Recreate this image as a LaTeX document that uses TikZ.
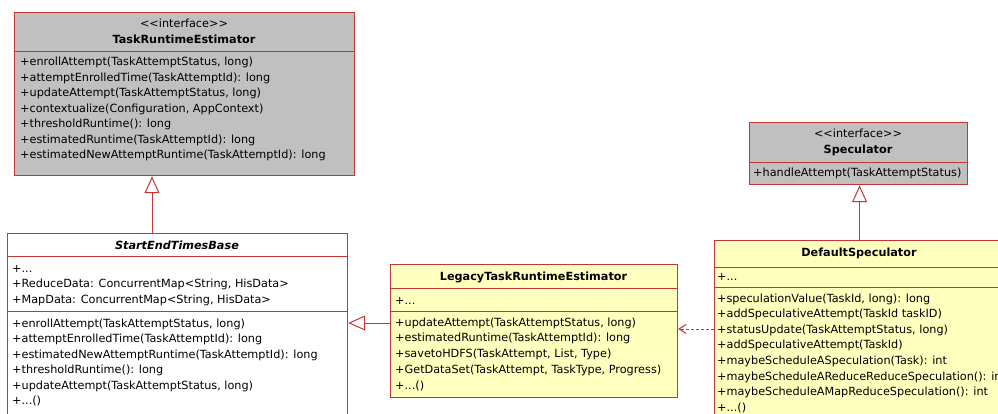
\documentclass[tikz,border=0pt]{standalone}
\usepackage{fontspec}
\newfontfamily\umlfont{DejaVu Sans}
\usetikzlibrary{arrows.meta}
\definecolor{umlborder}{RGB}{198,52,52}
\definecolor{ifacefill}{RGB}{192,192,192}
\definecolor{classfill}{RGB}{255,255,190}
\newcommand{\umlsize}{\fontsize{11.25}{15.5}\selectfont}
% a compartment's member list, its baseline on the first line
\newcommand{\memberlist}[1]{\begin{tabular}[t]{@{}l@{}}#1\end{tabular}}
\tikzset{
  comp/.style={draw=umlborder, line width=1.2pt, rectangle, inner sep=0pt, anchor=north west},
  members/.style={anchor=base west, inner sep=0pt, font=\umlfont\umlsize},
  title/.style={anchor=base, inner sep=0pt, font=\umlfont\bfseries\umlsize},
  stereo/.style={anchor=base, inner sep=0pt, font=\umlfont\umlsize},
  generalization/.style={draw=umlborder, line width=1pt,
    -{Triangle[open, length=17pt, width=15pt]}},
  dependency/.style={draw=umlborder, line width=1pt, dash pattern=on 3pt off 2pt,
    -{Straight Barb[length=7pt, width=9pt]}},
}
\begin{document}
\begin{tikzpicture}[x=1pt, y=-1pt]
\useasboundingbox (0,0) rectangle (998,414);
\fill[white] (0,0) rectangle (998,414);
\clip (0,0) rectangle (998,414);

% ---- TaskRuntimeEstimator (interface)
\node[comp, fill=ifacefill, minimum width=340pt, minimum height=39pt] (treHead) at (14,12) {};
\node[comp, fill=ifacefill, minimum width=340pt, minimum height=124pt] (treOps) at (14,51) {};
\node[stereo] (treStereo) at (184,28) {<<interface>>};
\node[title] (treName) at (184,44) {TaskRuntimeEstimator};
\node[members] (treList) at (20,66) {\memberlist{+enrollAttempt(TaskAttemptStatus, long)\\
+attemptEnrolledTime(TaskAttemptId): long\\
+updateAttempt(TaskAttemptStatus, long)\\
+contextualize(Configuration, AppContext)\\
+thresholdRuntime(): long\\
+estimatedRuntime(TaskAttemptId): long\\
+estimatedNewAttemptRuntime(TaskAttemptId): long}};

% ---- StartEndTimesBase (abstract)
\node[comp, fill=white, minimum width=340pt, minimum height=23pt] (serHead) at (7,233) {};
\node[comp, fill=white, minimum width=340pt, minimum height=55pt] (serAttr) at (7,256) {};
\node[comp, fill=white, minimum width=340pt, minimum height=130pt] (serOps) at (7,311) {};
\node[title, font=\umlfont\bfseries\itshape\umlsize] (serName) at (177,249) {StartEndTimesBase};
\node[members] (serAttrList) at (12,272) {\memberlist{+...\\
+ReduceData: ConcurrentMap<String, HisData>\\
+MapData: ConcurrentMap<String, HisData>}};
\node[members] (serOpsList) at (12,327) {\memberlist{+enrollAttempt(TaskAttemptStatus, long)\\
+attemptEnrolledTime(TaskAttemptId): long\\
+estimatedNewAttemptRuntime(TaskAttemptId): long\\
+thresholdRuntime(): long\\
+updateAttempt(TaskAttemptStatus, long)\\
+...()}};

% ---- LegacyTaskRuntimeEstimator
\node[comp, fill=classfill, minimum width=287pt, minimum height=24pt] (legHead) at (390,264) {};
\node[comp, fill=classfill, minimum width=287pt, minimum height=23pt] (legAttr) at (390,288) {};
\node[comp, fill=classfill, minimum width=287pt, minimum height=86pt] (legOps) at (390,311) {};
\node[title] (legName) at (533.5,280) {LegacyTaskRuntimeEstimator};
\node[members] (legAttrList) at (395,304) {+...};
\node[members, font=\umlfont\fontsize{11.25}{15.75}\selectfont] (legOpsList) at (395,326) {\memberlist{+updateAttempt(TaskAttemptStatus, long)\\
+estimatedRuntime(TaskAttemptId): long\\
+savetoHDFS(TaskAttempt, List, Type)\\
+GetDataSet(TaskAttempt, TaskType, Progress)\\
+...()}};

% ---- Speculator (interface)
\node[comp, fill=ifacefill, minimum width=218pt, minimum height=40pt] (specHead) at (749,122) {};
\node[comp, fill=ifacefill, minimum width=218pt, minimum height=22pt] (specOps) at (749,162) {};
\node[stereo] (specStereo) at (858,138) {<<interface>>};
\node[title] (specName) at (858,154) {Speculator};
\node[members] (specList) at (753,177) {+handleAttempt(TaskAttemptStatus)};

% ---- DefaultSpeculator
\node[comp, fill=classfill, minimum width=290pt, minimum height=27pt] (dspHead) at (714,240) {};
\node[comp, fill=classfill, minimum width=290pt, minimum height=20pt] (dspAttr) at (714,267) {};
\node[comp, fill=classfill, minimum width=290pt, minimum height=150pt] (dspOps) at (714,287) {};
\node[title] (dspName) at (859,256) {DefaultSpeculator};
\node[members] (dspAttrList) at (717,280) {+...};
\node[members, font=\umlfont\fontsize{11.25}{15.6}\selectfont] (dspOpsList) at (717,302) {\memberlist{+speculationValue(TaskId, long): long\\
+addSpeculativeAttempt(TaskId taskID)\\
+statusUpdate(TaskAttemptStatus, long)\\
+addSpeculativeAttempt(TaskId)\\
+maybeScheduleASpeculation(Task): int\\
+maybeScheduleAReduceReduceSpeculation(): int\\
+maybeScheduleAMapReduceSpeculation(): int\\
+...()}};

% ---- relations
\coordinate (g1) at (152,0);
\draw[generalization] (serHead.north -| g1) -- (treOps.south -| g1);
\coordinate (g2) at (0,323);
\draw[generalization] (legOps.west |- g2) -- (serOps.east |- g2);
\draw[generalization] (dspHead.north) -- (specOps.south -| dspHead.north);
\coordinate (d1) at (0,329);
\draw[dependency] (dspOps.west |- d1) -- (legOps.east |- d1);
\end{tikzpicture}
\end{document}
